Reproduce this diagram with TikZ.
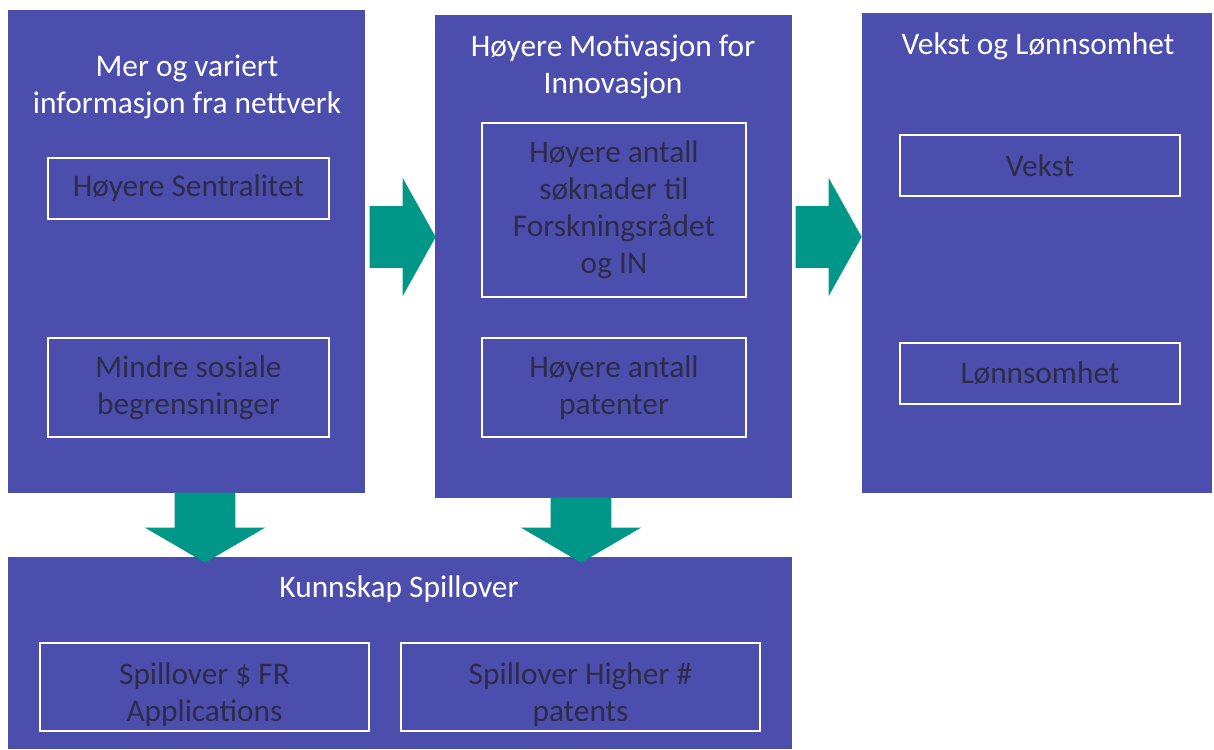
\documentclass[tikz,border=0pt]{standalone}
\usepackage{fontspec}
\setmainfont{Carlito}
\usepackage{xcolor}
\usepackage{tikz}
\usetikzlibrary{shapes.arrows}
\usetikzlibrary{positioning}

\definecolor{panelblue}{RGB}{76,78,174}
\definecolor{arrowteal}{RGB}{0,150,136}
\definecolor{innertext}{RGB}{44,44,72}

\begin{document}
\begin{tikzpicture}[x=0.025cm, y=-0.025cm]
  \tikzstyle{panel}=[rectangle, fill=panelblue, draw=none, inner sep=0]
  \tikzstyle{title}=[text=white, align=center, font=\fontsize{22.3}{26.3}\selectfont]
  \tikzstyle{inbox}=[rectangle, draw=white, line width=1.2pt, text=innertext, align=center, inner sep=0, font=\fontsize{22.3}{26.3}\selectfont]
  \tikzstyle{rarrow}=[single arrow, fill=arrowteal, draw=none, inner xsep=0, inner ysep=0.7625cm, minimum height=1.65cm, single arrow head extend=0.7125cm, single arrow tip angle=121.6, anchor=tip]
  \tikzstyle{darrow}=[single arrow, fill=arrowteal, draw=none, inner xsep=0, inner ysep=0.75cm, minimum height=1.75cm, single arrow head extend=0.75cm, single arrow tip angle=119.5, rotate=-90, anchor=tip]

  \useasboundingbox (0,0) rectangle (1214,749);

  % panels
  \node[panel, minimum width=8.925cm, minimum height=12.075cm] (info) at (186.5,251.5) {};
  \node[panel, minimum width=8.925cm, minimum height=12.075cm] (motiv) at (613.5,256.5) {};
  \node[panel, minimum width=8.75cm, minimum height=12cm] (vekstp) at (1037,253) {};
  \node[panel, minimum width=19.6cm, minimum height=4.8cm] (kunn) at (400,653) {};

  \node[title] (infot) at (187,86.5) {Mer og variert\\informasjon fra nettverk};
  \node[title] (motivt) at (613,66.5) {Høyere Motivasjon for\\Innovasjon};
  \node[title] (vekstpt) at (1038,46) {Vekst og Lønnsomhet};
  \node[title] (kunnt) at (399,589) {Kunnskap Spillover};

  % boxes inside the panels
  \node[inbox, minimum width=7.025cm, minimum height=1.525cm] (sentral) at (188.5,188.5) {Høyere Sentralitet};
  \node[inbox, minimum width=7.025cm, minimum height=2.475cm] (sosial) at (188.5,387.5) {Mindre sosiale\\begrensninger};
  \node[inbox, minimum width=6.6cm, minimum height=4.35cm] (soknad) at (614,210) {Høyere antall\\søknader til\\Forskningsrådet\\og IN};
  \node[inbox, minimum width=6.6cm, minimum height=2.475cm] (patent) at (614,387.5) {Høyere antall\\patenter};
  \node[inbox, minimum width=7cm, minimum height=1.525cm] (vekst) at (1040,165.5) {Vekst};
  \node[inbox, minimum width=7cm, minimum height=1.525cm] (lonn) at (1040,373.5) {Lønnsomhet};
  \node[inbox, minimum width=8.225cm, minimum height=2.2cm] (spillfr) at (204.5,687) {\rule{0pt}{26pt}Spillover \$ FR\\Applications};
  \node[inbox, minimum width=8.975cm, minimum height=2.2cm] (spillpat) at (580.5,687) {\rule{0pt}{26pt}Spillover Higher \#\\patents};

  % arrows between the panels
  \node[rarrow] (infomotiv) at (436,237) {};
  \node[rarrow] (motivvekst) at (862,237) {};
  \node[darrow] (infokunn) at (205,563) {};
  \node[darrow, minimum height=1.625cm] (motivkunn) at (581,563) {};
\end{tikzpicture}
\end{document}
